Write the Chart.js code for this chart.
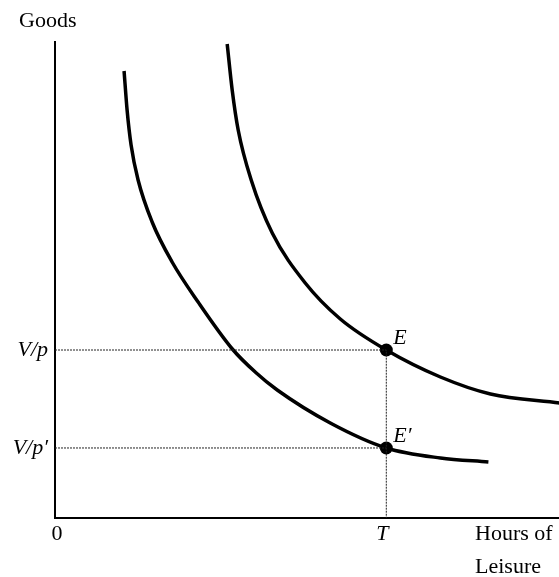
<!DOCTYPE html>
<html>
<head>
    <title>Leisure choice</title>
    <style>
        html, body {
            margin: 0;
            padding: 0;
            overflow: hidden; /* canvas is a little wider than the window */
            background-color: white;
        }

        #chart-box {
            width: 566px; /* 559 + the 6.5px point overflow Chart.js keeps on the right */
            height: 577px;
        }
    </style>
    <script src="https://cdn.jsdelivr.net/npm/chart.js"></script>
</head>
<body>

    <div id="chart-box">
        <canvas id="leisure-chart"></canvas>
    </div>

    <script>
        // Indifference curves (axis units 0..100)
        const innerX = [13.69, 14.29, 15.08, 16.47, 19.25, 23.21, 28.37, 35.32, 39.68, 44.05, 54.56, 65.67, 76.39, 85.91];
        const innerY = [93.71, 85.53, 78.20, 70.86, 62.05, 53.67, 45.28, 35.22, 30.61, 26.83, 19.92, 14.68, 12.58, 11.74];
        const outerX = [34.13, 35.12, 36.31, 38.89, 43.06, 49.60, 56.55, 65.67, 76.39, 86.31, 100];
        const outerY = [99.37, 89.73, 81.34, 70.86, 59.75, 49.27, 41.72, 35.22, 29.56, 26.00, 24.11];

        // Tick positions and labels
        const leisureT = 65.67;
        const yTickValues = [35.22, 14.68];
        const yTickLabels = ['V/p', 'V/p\u2032'];
        const xTickValues = [0, leisureT];
        const xTickLabels = ['0', 'T'];

        // Equilibrium points
        const pointLabels = ['E', 'E\u2032'];
        const pointX = [leisureT, leisureT];
        const pointY = [35.22, 14.68];

        const toPoints = (xs, ys) => xs.map((v, i) => ({ x: v, y: ys[i] }));

        // Guide lines from the y axis to T and down to the x axis
        const guideTop = [{ x: 0, y: yTickValues[0] }, { x: leisureT, y: yTickValues[0] }, { x: leisureT, y: 0 }];
        const guideLow = [{ x: 0, y: yTickValues[1] }, { x: leisureT, y: yTickValues[1] }];

        const serif = '"Liberation Serif", "Times New Roman", serif';
        const viewWidth = 559;

        const axesPlugin = {
            id: 'axesPlugin',
            beforeDatasetsDraw(chart) {
                const { ctx, chartArea, scales: { x, y } } = chart;
                const x0 = x.getPixelForValue(0);
                const y0 = y.getPixelForValue(0);
                ctx.save();
                ctx.strokeStyle = '#000';
                ctx.lineWidth = 2;
                ctx.beginPath();
                ctx.moveTo(x0, chartArea.top);
                ctx.lineTo(x0, y0 + 1);
                ctx.moveTo(x0 - 1, y0);
                ctx.lineTo(viewWidth, y0);
                ctx.stroke();
                ctx.restore();
            }
        };

        const labelPlugin = {
            id: 'labelPlugin',
            afterDraw(chart) {
                const { ctx, scales: { x, y } } = chart;
                const x0 = x.getPixelForValue(0);
                const y0 = y.getPixelForValue(0);
                ctx.save();
                ctx.fillStyle = '#000';
                ctx.textBaseline = 'alphabetic';

                // y tick labels
                ctx.textAlign = 'right';
                ctx.font = 'italic 22px ' + serif;
                yTickValues.forEach((v, i) => {
                    ctx.fillText(yTickLabels[i], x0 - 7, y.getPixelForValue(v) + 6);
                });

                // x tick labels
                ctx.textAlign = 'center';
                xTickValues.forEach((v, i) => {
                    ctx.font = (i === 0 ? '' : 'italic ') + '22px ' + serif;
                    ctx.fillText(xTickLabels[i], x.getPixelForValue(v) + (i === 0 ? 2 : -4), y0 + 22);
                });

                // axis titles
                ctx.font = '22px ' + serif;
                ctx.textAlign = 'left';
                ctx.fillText('Goods', 19, 27);
                ctx.fillText('Hours of', 475, y0 + 22);
                ctx.fillText('Leisure', 475, y0 + 55);

                // point labels
                ctx.font = 'italic 22px ' + serif;
                pointLabels.forEach((t, i) => {
                    ctx.fillText(t, x.getPixelForValue(pointX[i]) + 7, y.getPixelForValue(pointY[i]) - 6);
                });
                ctx.restore();
            }
        };

        document.addEventListener('DOMContentLoaded', () => {
            const ctx = document.getElementById('leisure-chart').getContext('2d');
            new Chart(ctx, {
                type: 'scatter',
                data: {
                    datasets: [
                        {
                            label: 'guide top',
                            data: guideTop,
                            showLine: true,
                            borderColor: '#222',
                            borderWidth: 1,
                            borderDash: [2, 1],
                            pointRadius: 0,
                        },
                        {
                            label: 'guide low',
                            data: guideLow,
                            showLine: true,
                            borderColor: '#222',
                            borderWidth: 1,
                            borderDash: [2, 1],
                            pointRadius: 0,
                        },
                        {
                            label: 'inner curve',
                            data: toPoints(innerX, innerY),
                            showLine: true,
                            borderColor: '#000',
                            borderWidth: 3.5,
                            cubicInterpolationMode: 'monotone',
                            pointRadius: 0,
                        },
                        {
                            label: 'outer curve',
                            data: toPoints(outerX, outerY),
                            showLine: true,
                            borderColor: '#000',
                            borderWidth: 3.5,
                            cubicInterpolationMode: 'monotone',
                            pointRadius: 0,
                            clip: false,
                        },
                        {
                            label: 'equilibria',
                            data: toPoints(pointX, pointY),
                            showLine: false,
                            pointRadius: 6.5,
                            pointBackgroundColor: '#000',
                            pointBorderColor: '#000',
                            pointBorderWidth: 0,
                        }
                    ]
                },
                options: {
                    responsive: true,
                    maintainAspectRatio: false,
                    animation: false,
                    layout: {
                        padding: { left: 55, right: 0, top: 41, bottom: 59 }
                    },
                    plugins: {
                        legend: { display: false },
                        tooltip: { enabled: false }
                    },
                    scales: {
                        x: { type: 'linear', min: 0, max: 100, display: false },
                        y: { type: 'linear', min: 0, max: 100, display: false }
                    }
                },
                plugins: [axesPlugin, labelPlugin]
            });
        });
    </script>
</body>
</html>
